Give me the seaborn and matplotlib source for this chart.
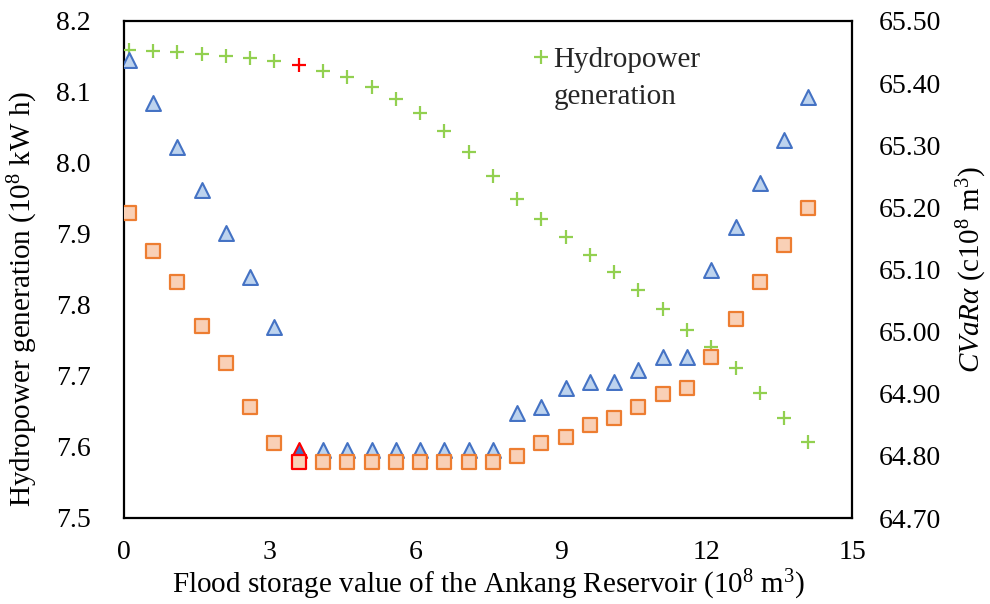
import matplotlib
matplotlib.use("Agg")
import matplotlib.pyplot as plt
from matplotlib.lines import Line2D
import seaborn as sns
import pandas as pd

# ---------------- data ----------------
flood_storage = [0.1, 0.6, 1.1, 1.6, 2.1, 2.6, 3.1, 3.6, 4.1, 4.6, 5.1, 5.6, 6.1, 6.6, 7.1,
                 7.6, 8.1, 8.6, 9.1, 9.6, 10.1, 10.6, 11.1, 11.6, 12.1, 12.6, 13.1, 13.6, 14.1]
hydropower = [8.159, 8.158, 8.156, 8.154, 8.151, 8.148, 8.144, 8.138, 8.130, 8.121, 8.107,
              8.090, 8.070, 8.045, 8.015, 7.982, 7.949, 7.921, 7.896, 7.870, 7.846, 7.821,
              7.794, 7.765, 7.741, 7.711, 7.676, 7.641, 7.607]
cvar_triangle = [65.437, 65.368, 65.297, 65.228, 65.159, 65.088, 65.007, 64.809, 64.809,
                 64.809, 64.809, 64.809, 64.809, 64.809, 64.809, 64.809, 64.869, 64.879,
                 64.909, 64.919, 64.919, 64.938, 64.959, 64.959, 65.099, 65.168, 65.239,
                 65.308, 65.378]
cvar_square = [65.191, 65.130, 65.080, 65.009, 64.950, 64.879, 64.821, 64.790, 64.790,
               64.790, 64.790, 64.790, 64.790, 64.790, 64.790, 64.790, 64.800, 64.821,
               64.830, 64.850, 64.861, 64.879, 64.900, 64.909, 64.959, 65.020, 65.080,
               65.139, 65.199]
highlight_index = 7

x_ticks = [0, 3, 6, 9, 12, 15]
left_ticks = [7.5, 7.6, 7.7, 7.8, 7.9, 8.0, 8.1, 8.2]
right_ticks = [64.70, 64.80, 64.90, 65.00, 65.10, 65.20, 65.30, 65.40, 65.50]

df = pd.DataFrame({"x": flood_storage, "gen": hydropower,
                   "tri": cvar_triangle, "sq": cvar_square})
hl = df.iloc[[highlight_index]]
rest = df.drop(index=highlight_index)

# ---------------- style ----------------
sns.set_theme(style="white")
plt.rcParams["font.family"] = ["Liberation Serif", "DejaVu Serif"]
plt.rcParams["mathtext.fontset"] = "custom"
plt.rcParams["mathtext.rm"] = "Liberation Serif"
plt.rcParams["mathtext.it"] = "Liberation Serif:italic"
plt.rcParams["mathtext.bf"] = "Liberation Serif:bold"

GREEN = "#92D050"
BLUE_E = "#4472C4"
BLUE_F = "#BDD3EE"
ORANGE_E = "#ED7D31"
ORANGE_F = "#F9D0B6"
RED = "#FF0000"

fig = plt.figure(figsize=(9.9, 6.04), dpi=100)
ax = fig.add_axes([124 / 990, 1 - 518 / 604, 728 / 990, 497 / 604])
ax2 = ax.twinx()

# left axis: hydropower generation
sns.scatterplot(data=rest, x="x", y="gen", ax=ax, marker="+", color=GREEN,
                s=100, linewidth=1.6, zorder=3)
sns.scatterplot(data=hl, x="x", y="gen", ax=ax, marker="+", color=RED,
                s=100, linewidth=1.6, zorder=3)

# right axis: CVaR
sns.scatterplot(data=rest, x="x", y="tri", ax=ax2, marker="^", color=BLUE_F,
                edgecolor=BLUE_E, s=115, linewidth=1.5, zorder=3)
sns.scatterplot(data=hl, x="x", y="tri", ax=ax2, marker="^", color=BLUE_E,
                edgecolor=RED, s=115, linewidth=1.5, zorder=3)
sns.scatterplot(data=rest, x="x", y="sq", ax=ax2, marker="s", color=ORANGE_F,
                edgecolor=ORANGE_E, s=100, linewidth=1.6, zorder=4)
sns.scatterplot(data=hl, x="x", y="sq", ax=ax2, marker="s", color=ORANGE_F,
                edgecolor=RED, s=100, linewidth=1.6, zorder=4)

ax.set_xlim(0, 15)
ax.set_ylim(7.5, 8.2)
ax2.set_ylim(64.70, 65.50)
ax.set_xticks(x_ticks)
ax.set_xticklabels([str(t) for t in x_ticks])
ax.set_yticks(left_ticks)
ax.set_yticklabels([f"{t:.1f}" for t in left_ticks])
ax2.set_yticks(right_ticks)
ax2.set_yticklabels([f"{t:.2f}" for t in right_ticks])

ax.tick_params(axis="x", length=0, pad=16, labelsize=20, colors="black")
ax.tick_params(axis="y", length=0, pad=24, labelsize=20, colors="black")
ax2.tick_params(axis="y", length=0, pad=19, labelsize=20, colors="black")

for s in ax.spines.values():
    s.set_visible(True)
    s.set_color("black")
    s.set_linewidth(1.6)
for s in ax2.spines.values():
    s.set_visible(False)

ax.set_xlabel(r"Flood storage value of the Ankang Reservoir (10$^{8}$ m$^{3}$)",
              fontsize=21, color="black")
ax.xaxis.set_label_coords(0.5, -0.10)
ax.set_ylabel(r"Hydropower generation (10$^{8}$ kW h)", fontsize=21, color="black")
ax.yaxis.set_label_coords(-0.115, 0.44)
ax2.set_ylabel(r"$\mathit{CVaR}\alpha$ (c10$^{8}$ m$^{3}$)", fontsize=21, color="black")
ax2.yaxis.set_label_coords(1.141, 0.5)

handles = [Line2D([], [], linestyle="none", marker="+", color=GREEN, markersize=10,
                  markeredgewidth=1.6),
           Line2D([], [], linestyle="none")]
leg = ax.legend(handles, ["Hydropower", "generation"], loc="upper left",
                bbox_to_anchor=(0.561, 0.948), frameon=False, fontsize=21,
                handlelength=0.6, handletextpad=0.12, labelspacing=0.36,
                borderaxespad=0, borderpad=0)

fig.savefig("out.png", dpi=100)
